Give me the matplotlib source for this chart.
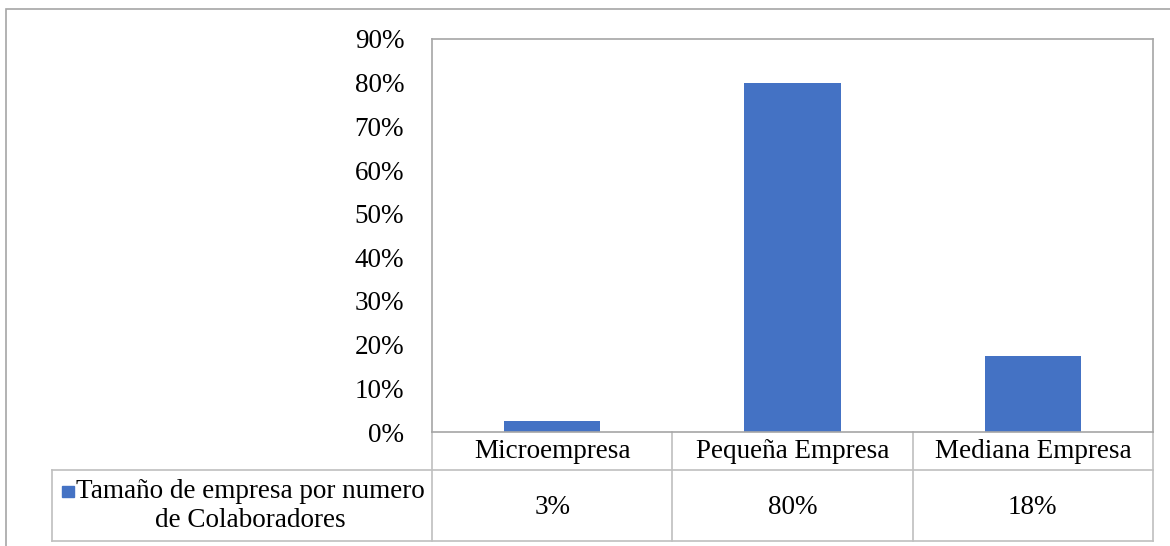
import numpy as np
import matplotlib.pyplot as plt
from matplotlib.patches import Rectangle
from matplotlib.lines import Line2D
import matplotlib.transforms as mtransforms

# Data
categorias = ['Microempresa', 'Pequeña Empresa', 'Mediana Empresa']
valores = [2.5, 80.0, 17.5]
etiquetas_tabla = ['3%', '80%', '18%']
serie = 'Tamaño de empresa por numero\nde Colaboradores'
yticks = [0, 10, 20, 30, 40, 50, 60, 70, 80, 90]

plt.rcParams['font.family'] = ['Liberation Serif', 'DejaVu Serif']
fs = 19.5

W, H = 1170, 546
fig = plt.figure(figsize=(W / 100, H / 100), dpi=100)

def fx(px):
    return px / W

def fy(py):
    return 1 - py / H

grey = '#a6a6a6'
light = '#bfbfbf'
blue = '#4472C4'

# outer chart frame
fig.patches.append(Rectangle((fx(6), fy(600)), fx(1300), fy(9) - fy(600),
                             transform=fig.transFigure, fill=False,
                             edgecolor=grey, linewidth=1.2))

left, right, top, bottom = 432, 1153, 39, 432
ax = fig.add_axes([fx(left), fy(bottom), fx(right) - fx(left), fy(top) - fy(bottom)])

x = np.arange(len(categorias))
ax.bar(x, valores, width=0.4, color=blue, zorder=2)
ax.set_xlim(-0.5, len(categorias) - 0.5)
ax.set_ylim(0, 90)
ax.set_yticks(yticks)
ax.set_yticklabels([f'{v}%' for v in yticks], fontsize=fs)
ax.tick_params(axis='y', length=0, pad=20)
ax.set_xticks([])
for s in ax.spines.values():
    s.set_color(grey)
    s.set_linewidth(1.2)

# data table under the axis
def ay(py):
    return (bottom - py) / (bottom - top)

trans = mtransforms.blended_transform_factory(ax.transData, ax.transAxes)
row1, row2 = 470, 541
# vertical column separators
for b in np.arange(len(categorias) + 1) - 0.5:
    ax.add_line(Line2D([b, b], [ay(bottom), ay(row2)], transform=trans,
                       color=light, linewidth=1.2, clip_on=False))
for i, (c, v) in enumerate(zip(categorias, etiquetas_tabla)):
    ax.text(i, ay(452), c, transform=trans, ha='center', va='center', fontsize=fs)
    ax.text(i, ay(507), v, transform=trans, ha='center', va='center', fontsize=fs)

# legend cell lines (figure coords)
for yy in (row1, row2):
    fig.add_artist(Line2D([fx(52), fx(right)], [fy(yy), fy(yy)],
                          transform=fig.transFigure, color=light, linewidth=1.2))
fig.add_artist(Line2D([fx(52), fx(52)], [fy(row1), fy(row2)],
                      transform=fig.transFigure, color=light, linewidth=1.2))

fig.patches.append(Rectangle((fx(62), fy(497)), fx(12), fy(486) - fy(497),
                             transform=fig.transFigure, color=blue))
fig.text(fx(250), fy(506), serie, ha='center', va='center',
         multialignment='center', fontsize=fs, linespacing=1.25)

fig.savefig('out.png', dpi=100, facecolor='white')
